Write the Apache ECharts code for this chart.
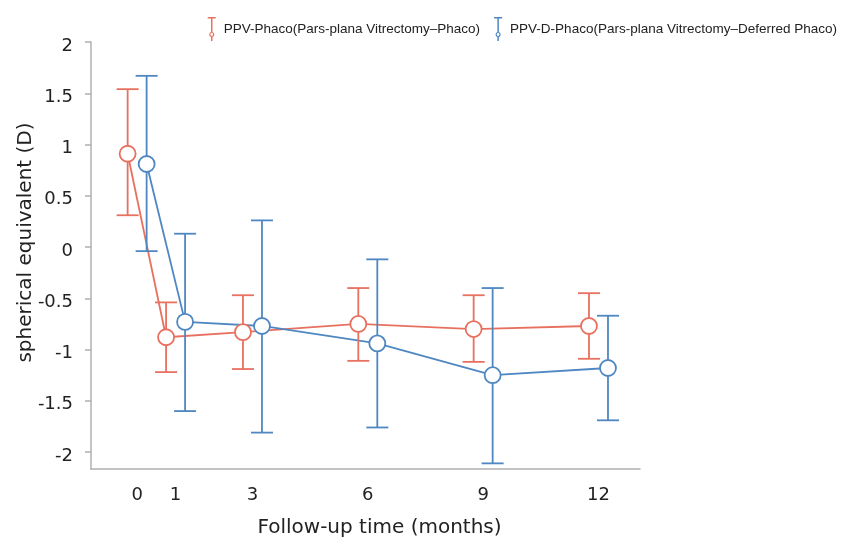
<!DOCTYPE html>
<html>
<head>
<meta charset="utf-8">
<script src="https://cdn.jsdelivr.net/npm/echarts@6/dist/echarts.min.js"></script>
<style>html,body{margin:0;padding:0;background:#fff}#c{width:859px;height:537px}</style>
</head>
<body>
<div id="c"></div>
<script>
// ---- data ----
var months = [0, 1, 3, 6, 9, 12];
var xTickLabels = [0, 1, 3, 6, 9, 12];
var yTickLabels = [-2, -1.5, -1, -0.5, 0, 0.5, 1, 1.5, 2];
var seriesNames = ['PPV-Phaco(Pars-plana Vitrectomy\u2013Phaco)', 'PPV-D-Phaco(Pars-plana Vitrectomy\u2013Deferred Phaco)'];
var ppvPhacoMean  = [0.91, -0.88, -0.83, -0.75, -0.80, -0.77];
var ppvPhacoUpper = [1.54, -0.54, -0.47, -0.40, -0.47, -0.45];
var ppvPhacoLower = [0.31, -1.22, -1.19, -1.11, -1.12, -1.09];
var ppvDPhacoMean  = [0.81, -0.73, -0.77, -0.94, -1.25, -1.18];
var ppvDPhacoUpper = [1.67, 0.13, 0.26, -0.12, -0.40, -0.67];
var ppvDPhacoLower = [-0.04, -1.60, -1.81, -1.76, -2.11, -1.69];

var RED = '#e8705f', BLUE = '#4f87c2', AXIS = '#b0b0b0';
var FONT = 'DejaVu Sans';

function build(i, mean, lo, hi) { return [months[i], mean[i], lo[i], hi[i]]; }
function makeData(mean, lo, hi) { return months.map(function (m, i) { return build(i, mean, lo, hi); }); }

function makeRender(mean, color, dx) {
  return function (params, api) {
    var i = params.dataIndex;
    var p = api.coord([api.value(0), api.value(1)]);
    var pl = api.coord([api.value(0), api.value(2)]);
    var ph = api.coord([api.value(0), api.value(3)]);
    var x = p[0] + dx, cap = 11, r = 8;
    var lineStyle = { stroke: color, lineWidth: 1.8, fill: null };
    var children = [];
    if (i > 0) {
      var q = api.coord([months[i - 1], mean[i - 1]]);
      children.push({ type: 'line', z2: 1, shape: { x1: q[0] + dx, y1: q[1], x2: x, y2: p[1] }, style: lineStyle });
    }
    children.push({ type: 'line', z2: 2, shape: { x1: x, y1: ph[1], x2: x, y2: pl[1] }, style: lineStyle });
    children.push({ type: 'line', z2: 2, shape: { x1: x - cap, y1: ph[1], x2: x + cap, y2: ph[1] }, style: lineStyle });
    children.push({ type: 'line', z2: 2, shape: { x1: x - cap, y1: pl[1], x2: x + cap, y2: pl[1] }, style: lineStyle });
    children.push({ type: 'circle', z2: 3, shape: { cx: x, cy: p[1], r: r }, style: { fill: '#fff', stroke: color, lineWidth: 1.8 } });
    return { type: 'group', children: children };
  };
}

var ICON = 'path://M0,0H8V1.5H0Z M3.25,1.5H4.75V15H3.25Z M1.5,17.5A2.5,2.5 0 1,0 6.5,17.5A2.5,2.5 0 1,0 1.5,17.5Z M2.6,17.5A1.4,1.4 0 1,1 5.4,17.5A1.4,1.4 0 1,1 2.6,17.5Z M3.25,20H4.75V24H3.25Z';

var chart = echarts.init(document.getElementById('c'), null, { renderer: 'canvas' });
chart.setOption({
  animation: false,
  backgroundColor: '#fff',
  legend: {
    right: 17, top: 12, itemWidth: 8, itemHeight: 24, itemGap: 14,
    textStyle: { fontFamily: 'Liberation Sans', fontSize: 13.5, color: '#222', padding: [0, 0, 0, 3] },
    data: [{ name: seriesNames[0], icon: ICON }, { name: seriesNames[1], icon: ICON }]
  },
  grid: { left: 91, right: 219, top: 42, bottom: 68, outerBoundsMode: 'none', containLabel: false },
  xAxis: {
    type: 'value', min: -1.2, max: 13.08,
    name: 'Follow-up time (months)', nameLocation: 'middle', nameGap: 49, nameMoveOverlap: false,
    nameTextStyle: { fontFamily: FONT, fontSize: 20, color: '#222', padding: [0, 0, 0, 28] },
    axisLine: { show: true, onZero: false, lineStyle: { color: AXIS, width: 1.5 } },
    axisTick: { show: false },
    splitLine: { show: false },
    axisLabel: { customValues: xTickLabels, margin: 17, fontFamily: FONT, fontSize: 18, color: '#222' }
  },
  yAxis: {
    type: 'value', min: -2.165, max: 2,
    name: 'spherical equivalent (D)', nameLocation: 'middle', nameGap: 55, nameMoveOverlap: false,
    nameTextStyle: { fontFamily: FONT, fontSize: 20, color: '#222', padding: [0, 0, 0, 26] },
    axisLine: { show: true, onZero: false, lineStyle: { color: AXIS, width: 1.5 } },
    axisTick: { show: true, customValues: yTickLabels, length: 6, lineStyle: { color: AXIS, width: 1.5 } },
    splitLine: { show: false },
    axisLabel: { customValues: yTickLabels, margin: 18, fontFamily: FONT, fontSize: 18, color: '#222',
      lineHeight: 8, formatter: function (v) { return '\n' + v; } }
  },
  series: [
    { name: seriesNames[0], type: 'custom', z: 2, itemStyle: { color: RED },
      data: makeData(ppvPhacoMean, ppvPhacoLower, ppvPhacoUpper),
      renderItem: makeRender(ppvPhacoMean, RED, -9.5), clip: false },
    { name: seriesNames[1], type: 'custom', z: 2, itemStyle: { color: BLUE },
      data: makeData(ppvDPhacoMean, ppvDPhacoLower, ppvDPhacoUpper),
      renderItem: makeRender(ppvDPhacoMean, BLUE, 9.5), clip: false }
  ]
});
</script>
</body>
</html>
